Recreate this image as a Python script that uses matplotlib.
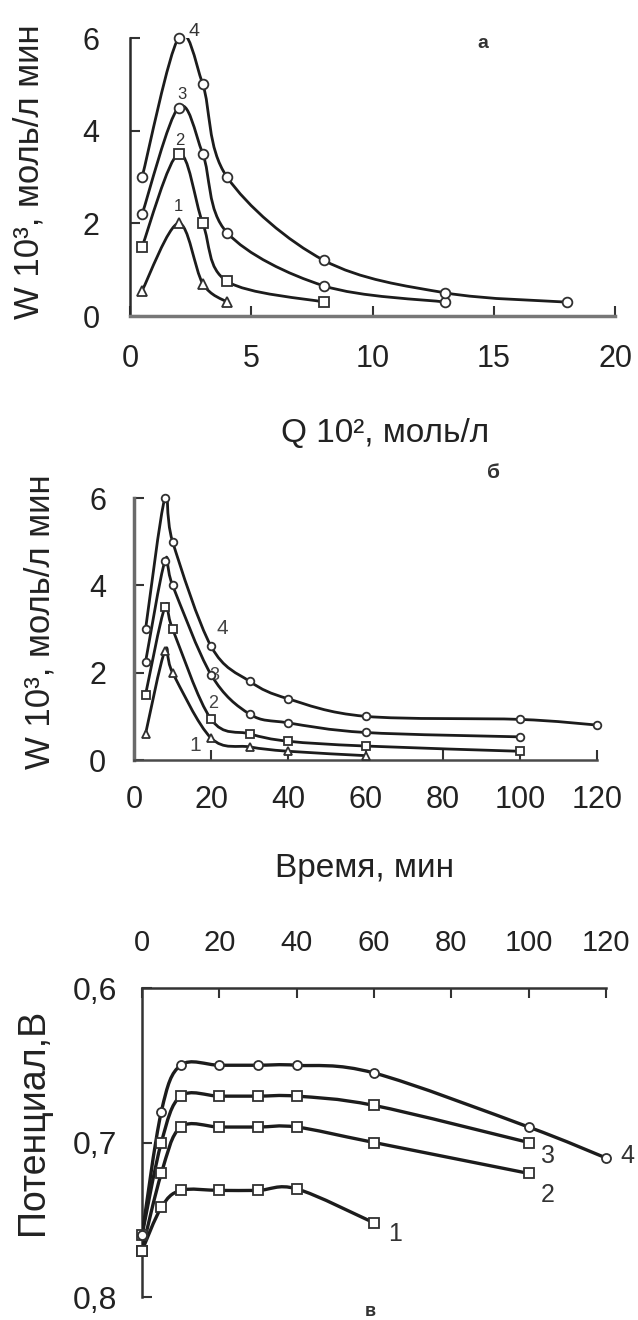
import numpy as np
import matplotlib
matplotlib.use('Agg')
import matplotlib.pyplot as plt
from matplotlib.path import Path
from matplotlib.patches import PathPatch

plt.rcParams['font.family'] = ['Liberation Sans', 'DejaVu Sans']

# ---------------- data: panel "а" (W vs Q) ----------------
q_a1 = [0.5, 2, 3, 4]
w_a1 = [0.55, 2.0, 0.7, 0.3]
q_a2 = [0.5, 2, 3, 4, 8]
w_a2 = [1.5, 3.5, 2.0, 0.75, 0.3]
q_a3 = [0.5, 2, 3, 4, 8, 13]
w_a3 = [2.2, 4.5, 3.5, 1.8, 0.65, 0.3]
q_a4 = [0.5, 2, 3, 4, 8, 13, 18]
w_a4 = [3.0, 6.0, 5.0, 3.0, 1.2, 0.5, 0.3]

# ---------------- data: panel "б" (W vs time) ----------------
t_b1 = [3, 8, 10, 20, 30, 40, 60]
w_b1 = [0.6, 2.5, 2.0, 0.5, 0.3, 0.2, 0.1]
t_b2 = [3, 8, 10, 20, 30, 40, 60, 100]
w_b2 = [1.5, 3.5, 3.0, 0.93, 0.6, 0.43, 0.32, 0.2]
t_b3 = [3, 8, 10, 20, 30, 40, 60, 100]
w_b3 = [2.25, 4.55, 4.0, 1.95, 1.05, 0.85, 0.63, 0.53]
t_b4 = [3, 8, 10, 20, 30, 40, 60, 100, 120]
w_b4 = [3.0, 6.0, 5.0, 2.6, 1.8, 1.4, 1.0, 0.93, 0.8]

# ---------------- data: panel "в" (potential vs time) ----------------
t_c1 = [0, 5, 10, 20, 30, 40, 60]
e_c1 = [0.770, 0.742, 0.731, 0.731, 0.731, 0.730, 0.752]
t_c2 = [0, 5, 10, 20, 30, 40, 60, 100]
e_c2 = [0.770, 0.720, 0.690, 0.690, 0.690, 0.690, 0.700, 0.720]
t_c3 = [0, 5, 10, 20, 30, 40, 60, 100]
e_c3 = [0.760, 0.700, 0.670, 0.670, 0.670, 0.670, 0.676, 0.700]
t_c4 = [0, 5, 10, 20, 30, 40, 60, 100, 120]
e_c4 = [0.760, 0.680, 0.650, 0.650, 0.650, 0.650, 0.655, 0.690, 0.710]

xticks_a = [0, 5, 10, 15, 20]
yticks_a = [0, 2, 4, 6]
xticks_b = [0, 20, 40, 60, 80, 100, 120]
yticks_b = [0, 2, 4, 6]
xticks_c = [0, 20, 40, 60, 80, 100, 120]
yticks_c = [0.6, 0.7, 0.8]
yticklabels_c = ['0,6', '0,7', '0,8']
curve_names = ['1', '2', '3', '4']

W, H = 638, 1320
fig = plt.figure(figsize=(W / 100, H / 100), dpi=100)

LC = '#1c1c1c'
SPC = '#4a4a4a'
TXT = '#222222'


def axes_px(l, r, t, b):
    return fig.add_axes([l / W, 1 - b / H, (r - l) / W, (b - t) / H])


def smooth(ax, x, y, lw=2.0):
    x = np.asarray(x, float)
    y = np.asarray(y, float)
    p = np.column_stack([x, y])
    verts = [p[0]]
    codes = [Path.MOVETO]
    n = len(p)
    for i in range(n - 1):
        p0 = p[i - 1] if i > 0 else p[i]
        p3 = p[i + 2] if i + 2 < n else p[i + 1]
        c1 = p[i] + (p[i + 1] - p0) / 6.0
        c2 = p[i + 1] - (p3 - p[i]) / 6.0
        verts += [c1, c2, p[i + 1]]
        codes += [Path.CURVE4] * 3
    patch = PathPatch(Path(verts, codes), facecolor='none', edgecolor=LC,
                      lw=lw, transform=ax.transData, zorder=3,
                      capstyle='round', joinstyle='round')
    ax.add_patch(patch)


def markers(ax, x, y, m, ms=6.5):
    ax.plot(x, y, linestyle='none', marker=m, ms=ms, mfc='white',
            mec='#303030', mew=1.3, zorder=4, clip_on=False)


def style(ax, size=22):
    for s in ax.spines.values():
        s.set_color(SPC)
        s.set_linewidth(1.8)
    ax.tick_params(direction='in', length=7, width=1.5, color='#333333',
                   labelsize=size, labelcolor=TXT)


# ---------------- panel а ----------------
ax1 = axes_px(130, 615, 38, 316)
ax1.set_xlim(0, 20)
ax1.set_ylim(0, 6)
ax1.spines['top'].set_visible(False)
ax1.spines['right'].set_visible(False)
style(ax1)
ax1.set_xticks(xticks_a)
ax1.set_yticks(yticks_a)
ax1.tick_params(axis='x', pad=20)
ax1.tick_params(axis='y', pad=22)
ax1.spines['left'].set_color('#2a2a2a')
ax1.spines['bottom'].set_color('#777777')
ax1.spines['bottom'].set_linewidth(2.5)

for (x, y, m) in [(q_a1, w_a1, '^'), (q_a2, w_a2, 's'), (q_a3, w_a3, 'o'),
                  (q_a4, w_a4, 'o')]:
    smooth(ax1, x, y)
    markers(ax1, x, y, m, ms=7 if m != '^' else 6.5)

ax1.text(2.0, 2.2, curve_names[0], fontsize=12, ha='center', va='bottom', color='#333')
ax1.text(2.05, 3.62, curve_names[1], fontsize=12, ha='center', va='bottom', color='#333')
ax1.text(2.15, 4.62, curve_names[2], fontsize=12, ha='center', va='bottom', color='#333')
ax1.text(2.4, 5.95, curve_names[3], fontsize=14, ha='left', va='bottom', color='#333')

fig.text(29 / W, 1 - 172 / H, 'W 10³, моль/л мин', rotation=90, fontsize=25,
         ha='center', va='center', color=TXT)
fig.text(385 / W, 1 - 433 / H, 'Q 10², моль/л', fontsize=24,
         ha='center', va='center', color=TXT)
fig.text(483 / W, 1 - 44 / H, 'а', fontsize=14, fontweight='bold',
         ha='center', va='center', color='#333')

# ---------------- panel б ----------------
ax2 = axes_px(134, 597, 498, 760)
ax2.set_xlim(0, 120)
ax2.set_ylim(0, 6)
ax2.spines['top'].set_visible(False)
ax2.spines['right'].set_visible(False)
style(ax2)
ax2.set_xticks(xticks_b)
ax2.set_yticks(yticks_b)
ax2.tick_params(axis='x', pad=18)
ax2.tick_params(axis='y', pad=20)
ax2.spines['left'].set_color('#6a6a6a')
ax2.spines['left'].set_linewidth(2.5)

for (x, y, m) in [(t_b1, w_b1, '^'), (t_b2, w_b2, 's'), (t_b3, w_b3, 'o'),
                  (t_b4, w_b4, 'o')]:
    smooth(ax2, x, y)
    markers(ax2, x, y, m, ms=6 if m != 'o' else 5.5)

ax2.text(15.8, 0.12, curve_names[0], fontsize=15, ha='center', va='bottom', color='#444')
ax2.text(20.6, 1.1, curve_names[1], fontsize=13, ha='center', va='bottom', color='#444')
ax2.text(20.8, 1.75, curve_names[2], fontsize=13, ha='center', va='bottom', color='#444')
ax2.text(22.8, 2.8, curve_names[3], fontsize=15, ha='center', va='bottom', color='#444')

fig.text(40 / W, 1 - 622 / H, 'W 10³, моль/л мин', rotation=90, fontsize=25,
         ha='center', va='center', color=TXT)
fig.text(365 / W, 1 - 868 / H, 'Время, мин', fontsize=24,
         ha='center', va='center', color=TXT)
fig.text(494 / W, 1 - 472 / H, 'б', fontsize=15, fontweight='bold',
         ha='center', va='center', color='#333')

# ---------------- panel в ----------------
ax3 = axes_px(142, 606, 988, 1297)
ax3.set_xlim(0, 120)
ax3.set_ylim(0.8, 0.6)
ax3.spines['bottom'].set_visible(False)
ax3.spines['right'].set_visible(False)
style(ax3, size=21)
ax3.xaxis.tick_top()
ax3.set_xticks(xticks_c)
ax3.set_yticks(yticks_c)
ax3.set_yticklabels(yticklabels_c)
ax3.tick_params(axis='x', pad=22, top=True, bottom=False, labeltop=True,
                labelbottom=False)
ax3.tick_params(axis='y', pad=18, labelsize=23)
ax3.spines['left'].set_color('#333333')
ax3.spines['top'].set_color('#333333')

for (x, y, m) in [(t_c1, e_c1, 's'), (t_c2, e_c2, 's'), (t_c3, e_c3, 's'),
                  (t_c4, e_c4, 'o')]:
    smooth(ax3, x, y, lw=2.4)
    markers(ax3, x, y, m, ms=6.5)

for (tx, ty, nm) in [(65.5, 0.759, curve_names[0]), (105, 0.734, curve_names[1]),
                     (105, 0.709, curve_names[2]), (125.5, 0.709, curve_names[3])]:
    ax3.text(tx, ty, nm, fontsize=18, ha='center', va='center', color='#333',
             clip_on=False)

fig.text(33 / W, 1 - 1122 / H, 'Потенциал,В', rotation=90, fontsize=27,
         ha='center', va='center', color=TXT)
fig.text(370 / W, 1 - 1312 / H, 'в', fontsize=13, fontweight='bold',
         ha='center', va='center', color='#333')

fig.savefig('out.png', dpi=100, facecolor='white')
